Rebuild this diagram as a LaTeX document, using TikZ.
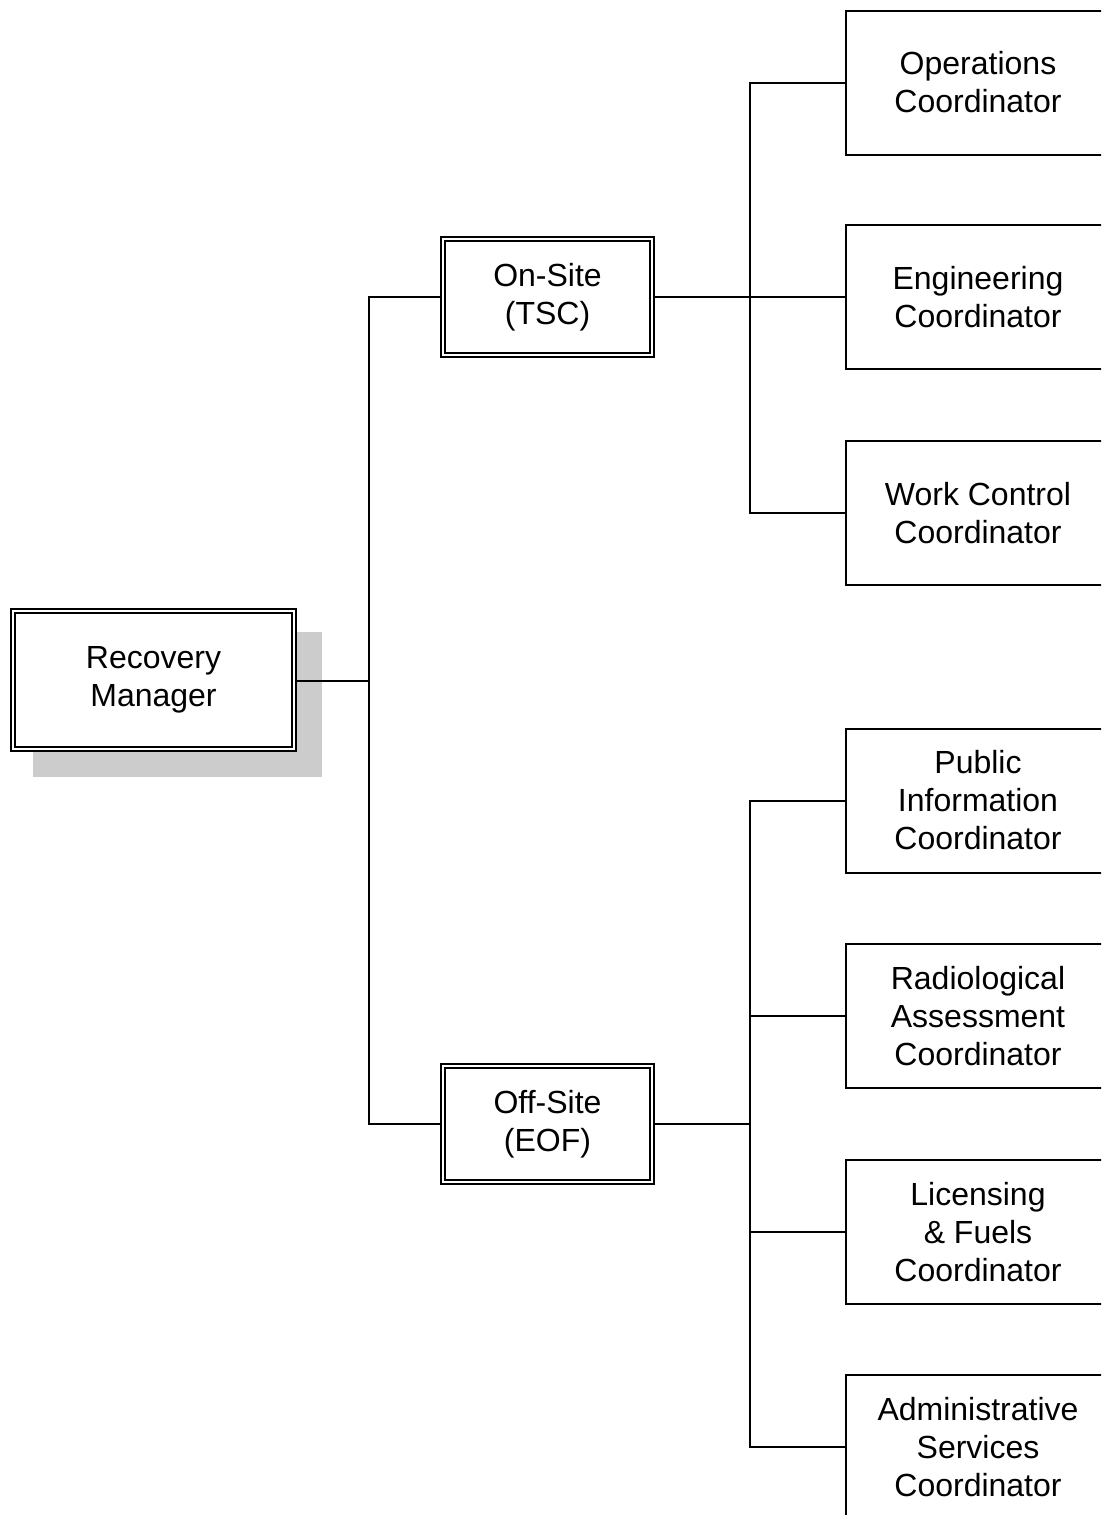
\documentclass[tikz,border=0pt]{standalone}
\usepackage{fontspec}
\setmainfont{Liberation Sans}
\begin{document}
\begin{tikzpicture}[x=1pt,y=-1pt,
  lbl/.style={align=center,font=\fontsize{32}{38}\selectfont,inner sep=0pt},
  dbox/.style={draw,fill=white,line width=1.6pt,double,double distance=2pt,lbl,minimum width=#1,minimum height=116pt},
  cbox/.style={draw,fill=white,line width=2pt,lbl,minimum width=264pt,minimum height=144pt},
  conn/.style={line width=2pt}]
\useasboundingbox (0,0) rectangle (1101,1515);
\clip (0,0) rectangle (1101,1515);
% shadow
\fill[black!20] (33,632) rectangle (322,777);
\node[dbox=281pt,minimum height=138pt] (rm) at (153.5,680) {Recovery\\Manager};
\node[dbox=209pt] (on) at (547.5,297) {On-Site\\(TSC)};
\node[dbox=209pt] (off) at (547.5,1124) {Off-Site\\(EOF)};
\node[cbox] (op) at (978,82.5) {Operations\\Coordinator};
\node[cbox] (en) at (978,297) {Engineering\\Coordinator};
\node[cbox] (wc) at (978,513) {Work Control\\Coordinator};
\node[cbox] (pi) at (978,800.5) {Public\\Information\\Coordinator};
\node[cbox] (ra) at (978,1016) {Radiological\\Assessment\\Coordinator};
\node[cbox] (li) at (978,1232) {Licensing\\\&~Fuels\\Coordinator};
\node[cbox] (ad) at (978,1447) {Administrative\\Services\\Coordinator};
\coordinate (j1) at (369,681);
\coordinate (j2) at (750,297);
\coordinate (j3) at (750,1124);
\draw[conn] (rm.east |- j1) -- (j1);
\draw[conn] (on.west) -| (j1) |- (off.west);
\draw[conn] (on.east) -- (j2);
\draw[conn] (op.west) -| (j2) |- (wc.west);
\draw[conn] (j2) -- (en.west);
\draw[conn] (off.east) -- (j3);
\draw[conn] (pi.west) -| (j3) |- (ad.west);
\draw[conn] (ra.west) -| (j3);
\draw[conn] (li.west) -| (j3);
\end{tikzpicture}
\end{document}
